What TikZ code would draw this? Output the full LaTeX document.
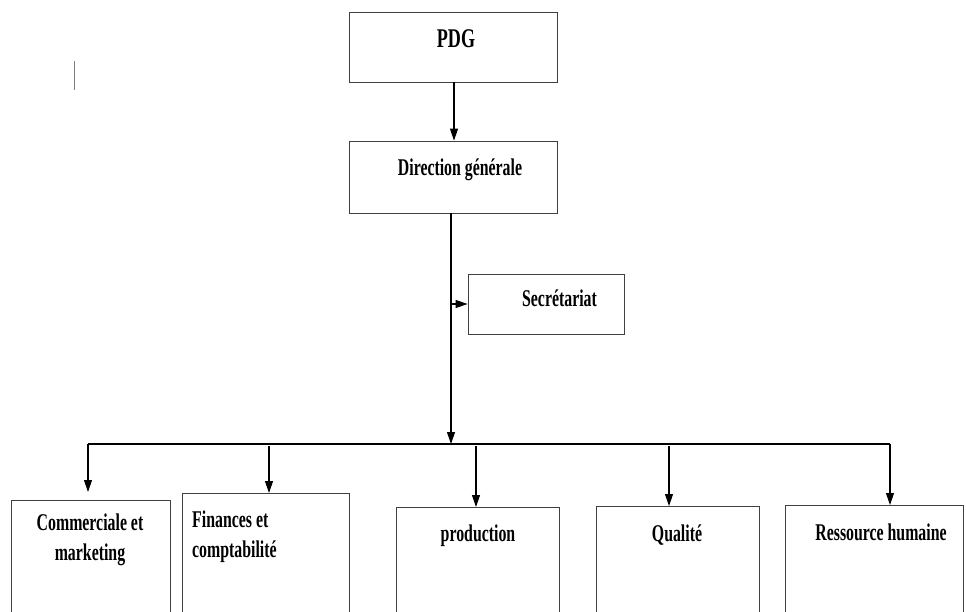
\documentclass[tikz,border=0pt]{standalone}
\usepackage{fontspec}
\setmainfont{Liberation Serif}
\usepackage{graphicx}
\usetikzlibrary{arrows.meta,calc}
\newcommand\sq[1]{\scalebox{0.66}[1]{#1}}
\tikzset{
  box/.style={draw=black!75, line width=0.9pt, rectangle, inner sep=0pt},
  lbl/.style={inner sep=0pt, anchor=base, font=\fontsize{24}{30}\selectfont\bfseries, text=black},
  arr/.style={draw=black, line width=1.1pt, -{Triangle[length=12pt,width=8pt]}},
  ln/.style={draw=black, line width=1.1pt}
}
\begin{document}
\begin{tikzpicture}[x=1pt,y=-1pt]
\clip (0,0) rectangle (966,611);
\fill[white] (0,0) rectangle (966,611);
% boxes
\node[box, minimum width=208pt, minimum height=70pt] (pdg) at (453,47) {};
\node[box, minimum width=208pt, minimum height=72pt] (dg) at (453,177) {};
\node[box, minimum width=156pt, minimum height=60pt] (sec) at (546,304) {};
\node[box, minimum width=159pt, minimum height=150pt, anchor=north west] (com) at (11,500) {};
\node[box, minimum width=167pt, minimum height=160pt, anchor=north west] (fin) at (182,493) {};
\node[box, minimum width=163pt, minimum height=150pt, anchor=north west] (prod) at (396,507) {};
\node[box, minimum width=163pt, minimum height=150pt, anchor=north west] (qual) at (596,506) {};
\node[box, minimum width=178pt, minimum height=150pt, anchor=north west] (rh) at (785,505) {};
% labels
\node[lbl, font=\fontsize{27}{30}\selectfont\bfseries] (tpdg) at (456,47) {\scalebox{0.67}[1]{PDG}};
\node[lbl] (tdg) at (460,175) {\sq{Direction générale}};
\node[lbl] (tsec) at (559.5,306) {\sq{Secrétariat}};
\node[lbl, align=center] (tcom) at (90,560) {\sq{Commerciale et}\\\sq{marketing}};
\node[lbl, align=left, anchor=base west] (tfin) at (192,557) {\sq{Finances et}\\\sq{comptabilité}};
\node[lbl] (tprod) at (478,541) {\sq{production}};
\node[lbl] (tqual) at (677,541) {\sq{Qualité}};
\node[lbl] (trh) at (881,540) {\sq{Ressource humaine}};
% connectors
\coordinate (j) at (451,444);
\coordinate (s) at (451,304);
\coordinate (bl) at (88,444);
\coordinate (br) at (890,444);
\coordinate (ctip) at (88,492);
\draw[arr] (pdg.south -| 454,0) -- (dg.north -| 454,0);
\draw[arr] (dg.south -| j) -- (j);
\draw[arr] (s) -- (sec.west |- s);
\draw[ln, line width=1.5pt] (bl) -- (br);
\draw[arr] (bl) -- (ctip);
\draw[arr] (269,446) -- (fin.north -| 269,0);
\draw[arr] (476,446) -- (prod.north -| 476,0);
\draw[arr] (669,446) -- (qual.north -| 669,0);
\draw[arr] (br) -- (rh.north -| br);
% stray mark
\draw[gray, line width=1pt] (74,61) -- (74,90);
\end{tikzpicture}
\end{document}
